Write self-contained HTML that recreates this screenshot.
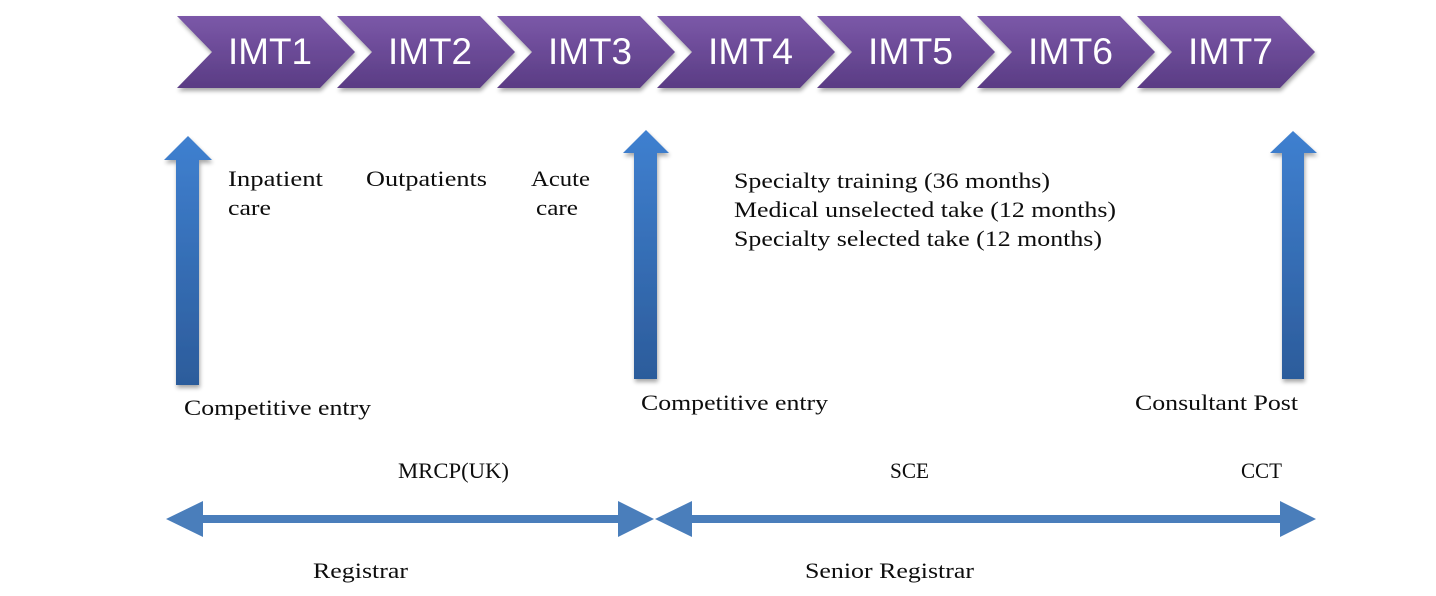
<!DOCTYPE html>
<html>
<head>
<meta charset="utf-8">
<style>
  html,body{margin:0;padding:0;background:#fff;}
  svg{display:block;}
  .s{font-family:"Liberation Serif",serif;fill:#0d0d0d;}
  .c{font-family:"Liberation Sans",sans-serif;fill:#fff;}
</style>
</head>
<body>
<svg width="1436" height="596" viewBox="0 0 1436 596" xmlns="http://www.w3.org/2000/svg">
  <defs>
    <linearGradient id="pg" x1="0" y1="0" x2="0" y2="1">
      <stop offset="0" stop-color="#7b58a8"/>
      <stop offset="1" stop-color="#5a3c84"/>
    </linearGradient>
    <linearGradient id="bg" x1="0" y1="0" x2="0" y2="1">
      <stop offset="0" stop-color="#3f80d0"/>
      <stop offset="1" stop-color="#2c5c9b"/>
    </linearGradient>
    <filter id="sh" x="-10%" y="-10%" width="130%" height="140%">
      <feGaussianBlur in="SourceAlpha" stdDeviation="2"/>
      <feOffset dx="1" dy="3" result="b"/>
      <feComponentTransfer><feFuncA type="linear" slope="0.35"/></feComponentTransfer>
      <feMerge><feMergeNode/><feMergeNode in="SourceGraphic"/></feMerge>
    </filter>
    <path id="chev" d="M0,16 L143,16 L178,52 L143,88 L0,88 L35,52 Z"/>
  </defs>

  <!-- chevrons -->
  <g filter="url(#sh)" fill="url(#pg)">
    <use href="#chev" x="177"/>
    <use href="#chev" x="337"/>
    <use href="#chev" x="497"/>
    <use href="#chev" x="657"/>
    <use href="#chev" x="817"/>
    <use href="#chev" x="977"/>
    <use href="#chev" x="1137"/>
  </g>
  <g class="c" font-size="37">
    <text x="228" y="64" textLength="84" lengthAdjust="spacingAndGlyphs">IMT1</text>
    <text x="388" y="64" textLength="84" lengthAdjust="spacingAndGlyphs">IMT2</text>
    <text x="548" y="64" textLength="84" lengthAdjust="spacingAndGlyphs">IMT3</text>
    <text x="708" y="64" textLength="85" lengthAdjust="spacingAndGlyphs">IMT4</text>
    <text x="868" y="64" textLength="85" lengthAdjust="spacingAndGlyphs">IMT5</text>
    <text x="1028" y="64" textLength="85" lengthAdjust="spacingAndGlyphs">IMT6</text>
    <text x="1188" y="64" textLength="85" lengthAdjust="spacingAndGlyphs">IMT7</text>
  </g>

  <!-- vertical arrows -->
  <g filter="url(#sh)" fill="url(#bg)">
    <path d="M188,136 L212,160 L199,160 L199,385 L176,385 L176,160 L164,160 Z"/>
    <path d="M646,130 L669,153 L657,153 L657,379 L634,379 L634,153 L623,153 Z"/>
    <path d="M1293,131 L1317,153 L1304,153 L1304,379 L1282,379 L1282,153 L1270,153 Z"/>
  </g>

  <!-- horizontal double arrows -->
  <g fill="#4a7ebb">
    <path d="M166,519 L203,501 L203,515 L618,515 L618,501 L654,519 L618,537 L618,523 L203,523 L203,537 Z"/>
    <path d="M655,519 L692,501 L692,515 L1280,515 L1280,501 L1316,519 L1280,537 L1280,523 L692,523 L692,537 Z"/>
  </g>

  <!-- labels -->
  <g class="s" font-size="22">
    <text x="228" y="186" textLength="95" lengthAdjust="spacingAndGlyphs">Inpatient</text>
    <text x="228" y="215" textLength="43" lengthAdjust="spacingAndGlyphs">care</text>
    <text x="366" y="186" textLength="121" lengthAdjust="spacingAndGlyphs">Outpatients</text>
    <text x="531" y="186" textLength="59" lengthAdjust="spacingAndGlyphs">Acute</text>
    <text x="536" y="215" textLength="42" lengthAdjust="spacingAndGlyphs">care</text>

    <text x="734" y="188" textLength="316" lengthAdjust="spacingAndGlyphs">Specialty training (36 months)</text>
    <text x="734" y="217" textLength="382" lengthAdjust="spacingAndGlyphs">Medical unselected take (12 months)</text>
    <text x="734" y="246" textLength="368" lengthAdjust="spacingAndGlyphs">Specialty selected take (12 months)</text>

    <text x="184" y="415" textLength="187" lengthAdjust="spacingAndGlyphs">Competitive entry</text>
    <text x="641" y="410" textLength="187" lengthAdjust="spacingAndGlyphs">Competitive entry</text>
    <text x="1135" y="410" textLength="163" lengthAdjust="spacingAndGlyphs">Consultant Post</text>

    <text x="398" y="478" textLength="111" lengthAdjust="spacingAndGlyphs">MRCP(UK)</text>
    <text x="890" y="478" textLength="39" lengthAdjust="spacingAndGlyphs">SCE</text>
    <text x="1241" y="478" textLength="41" lengthAdjust="spacingAndGlyphs">CCT</text>

    <text x="313" y="578" textLength="95" lengthAdjust="spacingAndGlyphs">Registrar</text>
    <text x="805" y="578" textLength="169" lengthAdjust="spacingAndGlyphs">Senior Registrar</text>
  </g>
</svg>
</body>
</html>
